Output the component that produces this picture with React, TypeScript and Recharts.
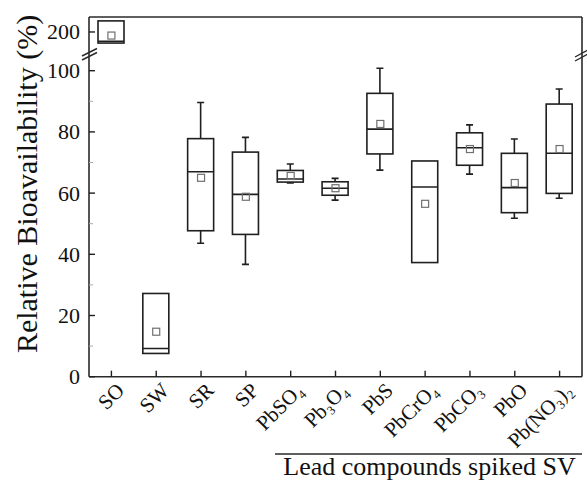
import React from "react";
import { ComposedChart, Bar, Scatter, XAxis, YAxis } from "recharts";

// categories and box statistics (relative bioavailability, %)
const categories = ["SO", "SW", "SR", "SP", "PbSO₄", "Pb₃O₄", "PbS", "PbCrO₄", "PbCO₃", "PbO", "Pb(NO₃)₂"];
const whiskerLow = [196.3, 7.6, 43.6, 36.7, 63.3, 57.7, 67.5, 37.3, 66.2, 51.8, 58.3];
const q1 = [196.3, 7.6, 47.7, 46.5, 63.6, 59.3, 72.8, 37.3, 69.1, 53.6, 59.9];
const median = [196.9, 9.2, 67.0, 59.6, 64.6, 61.6, 80.9, 62.0, 74.8, 61.8, 73.0];
const q3 = [203.7, 27.2, 77.8, 73.4, 67.4, 63.7, 92.6, 70.5, 79.7, 73.0, 89.1];
const whiskerHigh = [203.7, 27.2, 89.6, 78.2, 69.5, 64.8, 100.8, 70.5, 82.3, 77.7, 94.0];
const means = [198.8, 14.7, 65.0, 58.8, 65.6, 61.6, 82.6, 56.5, 74.4, 63.3, 74.4];

const upperTicks = [200];
const lowerTicks = [0, 10, 20, 30, 40, 50, 60, 70, 80, 90, 100];
const groupLabel = "Lead compounds spiked SV";
const yLabel = "Relative Bioavailability (%)";

// broken axis: 0-106.3 is drawn as is, 193.5-205 is squeezed in above the break
const BREAK = 150;
const GAP_AT = 106.3;
const AXIS_MAX = 117.55;
const UPPER_FROM = 193.5;
const UPPER_TO = 205;
const k = (AXIS_MAX - GAP_AT) / (UPPER_TO - UPPER_FROM);
const toAxis = (v: number) => (v <= BREAK ? v : GAP_AT + (v - UPPER_FROM) * k);
const fromAxis = (m: number) => (m <= GAP_AT + 1e-9 ? m : UPPER_FROM + (m - GAP_AT) / k);

const rows = categories.map((name, i) => ({
    name,
    lo: toAxis(whiskerLow[i]),
    q1: toAxis(q1[i]),
    med: toAxis(median[i]),
    q3: toAxis(q3[i]),
    hi: toAxis(whiskerHigh[i]),
    mean: toAxis(means[i]),
}));

const yTicks = [...lowerTicks, ...upperTicks.map(toAxis)];

const FONT = "'Liberation Serif'";
const INK = "#1f1f1f";

const W = 587;
const H = 481;
const LEFT = 89;
const RIGHT = 582;
const TOP = 17;
const BOTTOM = 376.7;

const BoxShape = (props: any) => {
    const { x, y, width, height, payload } = props;
    if (!payload || payload.lo == null || !Number.isFinite(height)) return <g />;
    const top = Math.min(y, y + height);
    const h = Math.abs(height);
    // map an axis value onto the pixel range that recharts gave the whisker span
    const py = (v: number) => top + ((payload.hi - v) / (payload.hi - payload.lo)) * h;
    const cx = x + width / 2;
    const cap = 3.5;
    return (
        <g stroke={INK} strokeWidth={1.6} fill="none">
            <line x1={cx} x2={cx} y1={py(payload.hi)} y2={py(payload.q3)} />
            <line x1={cx} x2={cx} y1={py(payload.q1)} y2={py(payload.lo)} />
            {payload.hi > payload.q3 && <line x1={cx - cap} x2={cx + cap} y1={py(payload.hi)} y2={py(payload.hi)} />}
            {payload.lo < payload.q1 && <line x1={cx - cap} x2={cx + cap} y1={py(payload.lo)} y2={py(payload.lo)} />}
            <rect x={x} y={py(payload.q3)} width={width} height={py(payload.q1) - py(payload.q3)} />
            <line x1={x} x2={x + width} y1={py(payload.med)} y2={py(payload.med)} />
        </g>
    );
};

const MeanMark = (props: any) => {
    const { cx, cy } = props;
    if (!Number.isFinite(cx) || !Number.isFinite(cy)) return <g />;
    return <rect x={cx - 3.5} y={cy - 3.5} width={7} height={7} fill="none" stroke="#707070" strokeWidth={1.2} />;
};

// inward tick mark plus the rotated category name
const XTick = (props: any) => {
    const { x, y, payload } = props;
    const ax = Number(x);
    const ay = Number(y);
    return (
        <g>
            <line x1={ax} x2={ax} y1={ay} y2={ay - 6} stroke={INK} strokeWidth={1.4} />
            <g transform={`translate(${ax + 14}, ${ay + 15})`}>
                <g transform="rotate(-45)">
                    <text x={0} y={0} textAnchor="end" fontFamily={FONT} fontSize={21} fill="#111">
                        {String(payload.value)}
                    </text>
                </g>
            </g>
        </g>
    );
};

const YTick = (props: any) => {
    const { x, y, payload } = props;
    const real = Math.round(fromAxis(payload.value));
    const major = real % 20 === 0 || real > BREAK;
    if (!major) {
        return <line x1={x} x2={x + 4} y1={y} y2={y} stroke="#aaa" strokeWidth={1} />;
    }
    return (
        <g>
            <line x1={x} x2={x + 6} y1={y} y2={y} stroke={INK} strokeWidth={1.4} />
            <text x={x - 9} y={y + 7.5} textAnchor="end" fontFamily={FONT} fontSize={22} fill="#111">
                {real}
            </text>
        </g>
    );
};

const YTitle = () => (
    <g transform="translate(37, 184)">
        <g transform="rotate(-90)">
            <text x={0} y={0} textAnchor="middle" fontFamily={FONT} fontSize={30} fill="#111">
                {yLabel}
            </text>
        </g>
    </g>
);

// top/right frame, axis break marks and the group caption
const Decorations = () => (
    <g>
        <g stroke="#2a2a2a" strokeWidth={1.6} fill="none">
            <line x1={LEFT} x2={RIGHT} y1={TOP} y2={TOP} />
            <line x1={RIGHT} x2={RIGHT} y1={TOP} y2={BOTTOM} />
        </g>
        <g stroke="#2a2a2a" strokeWidth={1.4}>
            <line x1={82} y1={56} x2={97} y2={48.5} />
            <line x1={82} y1={60} x2={97} y2={52.5} />
            <line x1={575} y1={57} x2={588} y2={50} />
            <line x1={575} y1={61} x2={588} y2={54} />
        </g>
        <line x1={275} x2={582} y1={454} y2={454} stroke="#2a2a2a" strokeWidth={1.4} />
        <text x={429.5} y={475} textAnchor="middle" fontFamily={FONT} fontSize={26} fill="#111">
            {groupLabel}
        </text>
    </g>
);

export default function App() {
    return (
        <div style={{ position: "absolute", left: 0, top: 0 }}>
            <ComposedChart
                width={W}
                height={H}
                data={rows}
                margin={{ top: TOP, right: W - RIGHT, left: LEFT - 60, bottom: H - BOTTOM - 30 }}
            >
                <XAxis
                    dataKey="name"
                    height={30}
                    interval={0}
                    axisLine={{ stroke: "#2a2a2a", strokeWidth: 1.6 }}
                    tickLine={false}
                    tickSize={0}
                    tickMargin={0}
                    tick={<XTick />}
                    label={<Decorations />}
                />
                <YAxis
                    width={60}
                    type="number"
                    domain={[0, AXIS_MAX]}
                    ticks={yTicks}
                    allowDataOverflow
                    axisLine={{ stroke: "#2a2a2a", strokeWidth: 1.6 }}
                    tickLine={false}
                    tickSize={0}
                    tickMargin={0}
                    tick={<YTick />}
                    label={<YTitle />}
                />
                <Bar dataKey={(d: any) => [d.lo, d.hi]} barSize={26} shape={<BoxShape />} isAnimationActive={false} />
                <Scatter dataKey="mean" shape={<MeanMark />} isAnimationActive={false} />
            </ComposedChart>
        </div>
    );
}
